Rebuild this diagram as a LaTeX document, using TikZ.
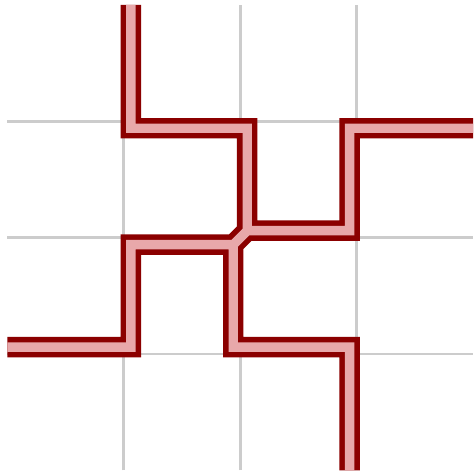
\documentclass[tikz,border=0pt]{standalone}
\usepackage{xcolor}
\definecolor{wire}{HTML}{8B0000}
\definecolor{wiresoft}{HTML}{E8A8AA}
\definecolor{rule}{HTML}{CCCCCC}
\tikzset{
  gridline/.style={draw=rule, line width=0.7pt},
  %
  wire/.style={draw=wire, line width=1.35pt, double=wiresoft,
               double distance=2.3pt},
}

\begin{document}
\begin{tikzpicture}[x=1cm, y=1cm]

  \def\o{0.06}   % offset of the wire from the grid lines

  \useasboundingbox (-0.064,-0.039) rectangle (4.016,4.042);

  % --- grid ---------------------------------------------------------------
  \foreach \k in {1,2,3} {
    \draw[gridline] (0,\k) -- (4,\k);
    \draw[gridline] (\k,0) -- (\k,4);
  }

  % --- wire ---------------------------------------------------------------
  \draw[wire]
    (1+\o,4) |- (2+\o,3-\o) -- (2+\o,2+\o) -- (2-\o,2-\o)
      -- (2-\o,1+\o) -| (3-\o,0)
    (4,3-\o) -| (3-\o,2+\o) -- (2+\o,2+\o) -- (2-\o,2-\o)
      -- (1+\o,2-\o) |- (0,1+\o);

\end{tikzpicture}
\end{document}
